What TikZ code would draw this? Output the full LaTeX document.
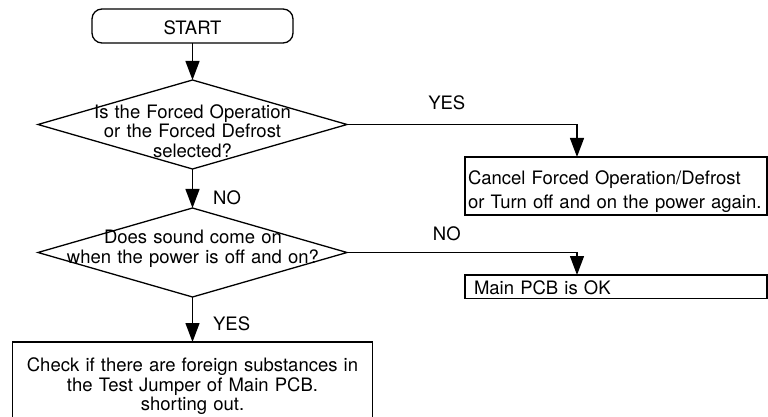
\documentclass[tikz,border=0pt]{standalone}
\usepackage{fontspec}
\setmainfont{TeX Gyre Heros}
\usetikzlibrary{arrows.meta,shapes.geometric}

\begin{document}
\begin{tikzpicture}[
  x=1pt, y=-1pt,
  every node/.style={font=\fontsize{18.5}{19.3}\selectfont},
  box/.style={draw, line width=1.3pt, inner sep=0pt, outer sep=0pt},
  decision/.style={draw, diamond, line width=1.3pt, inner sep=0pt, outer sep=0pt,
    minimum width=309pt, minimum height=89pt},
  lbl/.style={inner sep=0pt},
  arr/.style={-{Triangle[length=19pt,width=14pt]}, line width=1.3pt}
]
\useasboundingbox (0,0) rectangle (768,417);

\node[box, rounded corners=10pt, minimum width=201pt, text height=25.3pt, text depth=8.7pt] (start) at (192.5,9) [anchor=north] {START};

\node[decision] (forced) at (192.5,124.5) {};
\node[lbl, text width=240pt, align=center, anchor=north, text height=14pt] (forcedtxt) at (192.5,104.3) {Is the Forced Operation\\or the Forced Defrost\\selected?};

\node[decision] (sound) at (192.5,252.5) {};
\node[lbl, text width=260pt, align=center, anchor=north, text height=14pt, font=\fontsize{18.5}{20}\selectfont] (soundtxt) at (193,229.3) {Does sound come on\\when the power is off and on?};

\node[box, anchor=north west, text width=296pt, inner xsep=3pt, text height=27pt, text depth=31pt,
  align=left, font=\fontsize{18.5}{24.3}\selectfont] (cancel) at (465,157)
  {Cancel Forced Operation/Defrost\\or Turn off and on the power again.};

\node[box, anchor=north west, text width=284pt, inner xsep=9pt, text height=19pt, text depth=4.3pt,
  align=left] (pcbok) at (465,275) {Main PCB is OK};

\node[box, anchor=north, text width=360pt, text height=29.7pt, text depth=50pt,
  align=center] (check) at (192.5,342)
  {Check if there are foreign substances in\\the Test Jumper of Main PCB.\\shorting out.};

\draw[arr] (start) -- (forced);
\draw[arr] (forced) -- node[lbl, right=20pt, pos=0.75] {NO} (sound);
\draw[arr] (forced.east) -| node[lbl, above=14pt, pos=0.217] {YES} ([xshift=112pt]cancel.north west);
\draw[arr] (sound.east) -| node[lbl, above=11pt, pos=0.217] {NO} ([xshift=112pt]pcbok.north west);
\draw[arr] (sound) -- node[lbl, right=20pt, pos=0.6] {YES} (check);
\end{tikzpicture}
\end{document}
